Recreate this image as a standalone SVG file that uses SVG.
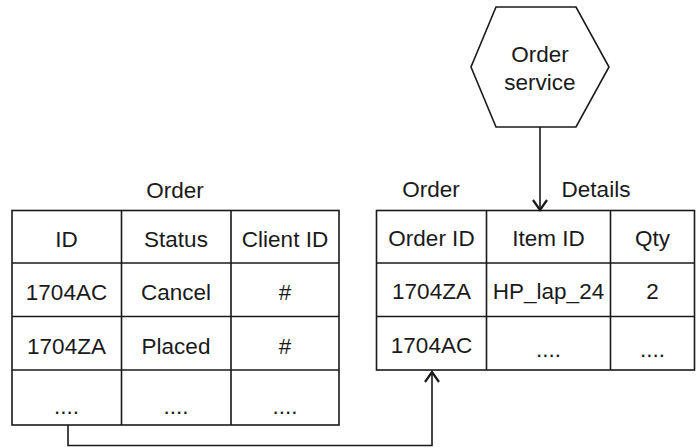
<svg xmlns="http://www.w3.org/2000/svg" width="696" height="448" viewBox="0 0 696 448">
<style>
.t{font-family:"Liberation Sans",Arial,sans-serif;font-size:22.5px;fill:#1a1a1a;text-anchor:middle}
.b{fill:#fff;stroke:#1a1a1a;stroke-width:1.6}
.ln{fill:none;stroke:#1a1a1a;stroke-width:1.6}
.ah{fill:none;stroke:#1a1a1a;stroke-width:2.2}
</style>
<rect width="696" height="448" fill="#fff"/>
<g id="order-service">
<polygon class="b" points="496,7 576,7 609,67 576,127 496,127 471,67"/>
<text class="t" x="540" y="62">Order</text>
<text class="t" x="540" y="90">service</text>
</g>
<g id="order-table">
<text class="t" x="175" y="198">Order</text>
<rect class="b" x="12" y="210.5" width="327" height="214.5"/>
<path class="ln" d="M121.5,210.5V425M231,210.5V425M12,263H339M12,316.5H339M12,370H339"/>
<text class="t" x="66.5" y="247">ID</text>
<text class="t" x="176" y="247">Status</text>
<text class="t" x="285" y="247">Client ID</text>
<text class="t" x="66.5" y="300">1704AC</text>
<text class="t" x="176" y="300">Cancel</text>
<text class="t" x="285" y="300">#</text>
<text class="t" x="66.5" y="354">1704ZA</text>
<text class="t" x="176" y="354">Placed</text>
<text class="t" x="285" y="354">#</text>
<text class="t" x="66.5" y="414">....</text>
<text class="t" x="176" y="414">....</text>
<text class="t" x="285" y="414">....</text>
</g>
<g id="order-details-table">
<text class="t" x="431" y="197">Order</text>
<text class="t" x="596" y="197">Details</text>
<rect class="b" x="376.5" y="210.5" width="318" height="159.5"/>
<path class="ln" d="M486.5,210.5V370M610.5,210.5V370M376.5,263H694.5M376.5,316.5H694.5"/>
<text class="t" x="431.5" y="246">Order ID</text>
<text class="t" x="548.5" y="246">Item ID</text>
<text class="t" x="652.5" y="246">Qty</text>
<text class="t" x="431.5" y="299">1704ZA</text>
<text class="t" x="548.5" y="299">HP_lap_24</text>
<text class="t" x="652.5" y="299">2</text>
<text class="t" x="431.5" y="353">1704AC</text>
<text class="t" x="548.5" y="357">....</text>
<text class="t" x="652.5" y="357">....</text>
</g>
<g id="connectors">
<path class="ln" d="M540,127V209"/>
<path class="ah" d="M533,200L540,210L547,200"/>
<path class="ln" d="M68,425V445.5H432V371"/>
<path class="ah" d="M425,382L432,372L439,382"/>
</g>
</svg>
